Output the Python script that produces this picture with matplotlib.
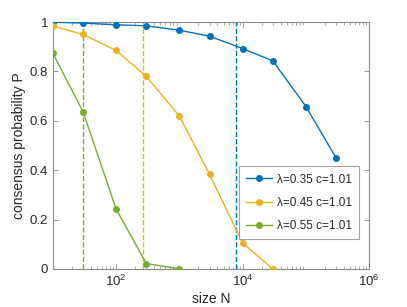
import numpy as np
import matplotlib.pyplot as plt
from matplotlib.ticker import LogLocator, NullFormatter

plt.rcParams['font.family'] = ['Liberation Sans', 'DejaVu Sans']

# data
N = [10, 30, 100, 300, 1000, 3000, 10000, 30000, 100000, 300000]
p_035 = [1.0, 0.996, 0.989, 0.985, 0.967, 0.943, 0.893, 0.843, 0.658, 0.450]
p_045 = [0.984, 0.950, 0.885, 0.780, 0.619, 0.383, 0.105, 0.0]
p_055 = [0.873, 0.637, 0.242, 0.022, 0.0]
labels = ['λ=0.35 c=1.01', 'λ=0.45 c=1.01', 'λ=0.55 c=1.01']
n_crit = [7900, 268, 29.5]   # dashed lines (blue, orange, green)

colors = ['#0072BD', '#EDB120', '#77AC30']
txt = '#262626'
edge = '#8a8a8a'

fig = plt.figure(figsize=(4.07, 3.07), dpi=100)
ax = fig.add_axes([0.130, 0.124, 0.777, 0.804])

series = [p_035, p_045, p_055]
for i in range(3):
    y = series[i]
    ax.plot(N[:len(y)], y, '-o', color=colors[i], lw=1.0, ms=4,
            label=labels[i], zorder=3)
for i in range(3):
    ax.plot([n_crit[i], n_crit[i]], [0, 1], '--', color=colors[i], lw=1.0, zorder=2)

ax.set_xscale('log')
ax.set_xlim(10, 1e6)
ax.set_ylim(0, 1)
ax.set_xticks([1e2, 1e4, 1e6])
ax.xaxis.set_minor_locator(LogLocator(base=10, subs=np.arange(2, 10), numticks=20))
ax.xaxis.set_minor_formatter(NullFormatter())
ax.set_yticks([0, 0.2, 0.4, 0.6, 0.8, 1])
ax.set_yticklabels(['0', '0.2', '0.4', '0.6', '0.8', '1'])

ax.tick_params(which='both', direction='in', top=True, right=True, colors=edge,
               labelcolor=txt, labelsize=9.5)
ax.tick_params(which='major', length=3.5, width=0.6)
ax.tick_params(which='minor', length=2, width=0.5)
for s in ax.spines.values():
    s.set_color(edge)
    s.set_linewidth(0.8)

ax.set_xlabel('size N', color=txt, fontsize=10, labelpad=2)
ax.set_ylabel('consensus probability P', color=txt, fontsize=10, labelpad=3)

leg = ax.legend(loc='lower right', bbox_to_anchor=(0.968, 0.121), fontsize=8.5,
                frameon=True, fancybox=False, handlelength=2.2, labelspacing=0.95,
                borderpad=0.6, handletextpad=0.4, borderaxespad=0, labelcolor=txt)
leg.get_frame().set_edgecolor(edge)
leg.get_frame().set_linewidth(0.8)

plt.savefig('out.png', dpi=100)
